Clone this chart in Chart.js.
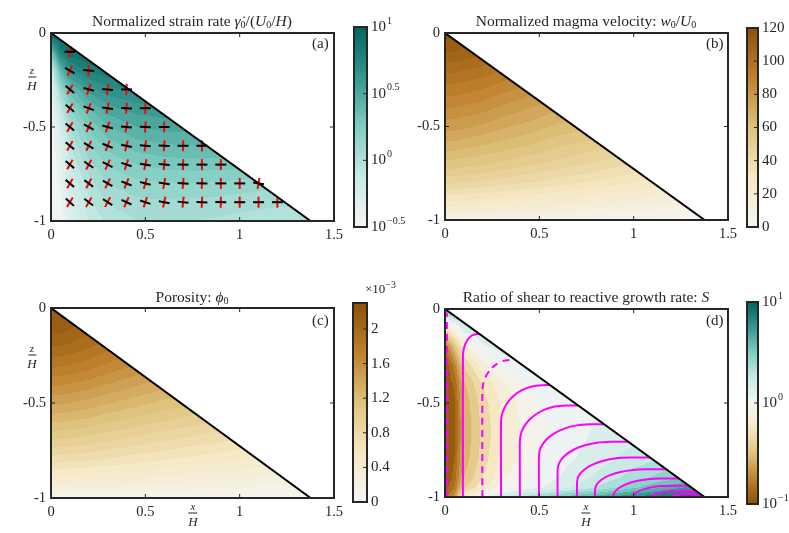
<!DOCTYPE html>
<html>
<head>
<meta charset="utf-8">
<script src="https://cdn.jsdelivr.net/npm/chart.js@4.4.1/dist/chart.umd.min.js"></script>
<style>
  body { margin: 0; background: #fff; width: 789px; height: 533px; position: relative; overflow: hidden; }
  canvas { position: absolute; }
  .t { position: absolute; font-family: 'Liberation Serif', serif; color: #262626; font-size: 15px; white-space: nowrap; line-height: 1; }
  .title { transform: translateX(-50%); font-size: 15.5px; }
  .frac { display: flex; flex-direction: column; align-items: center; transform: translate(-50%, -50%); font-size: 13px; }
  .frac .num { border-bottom: 1px solid #262626; padding: 0 2px 1px; font-size: 11px; font-style: italic; }
  .frac .den { padding-top: 1px; font-style: italic; }
  sub { font-size: 10px; vertical-align: -2px; }
  sup { font-size: 10px; vertical-align: 5px; }
</style>
</head>
<body>
<canvas id="pa"></canvas><canvas id="pb"></canvas><canvas id="pc"></canvas><canvas id="pd"></canvas>
<canvas id="ca"></canvas><canvas id="cb"></canvas><canvas id="cc"></canvas><canvas id="cd"></canvas>

<div class="t title" style="left:192px;top:13px">Normalized strain rate <i>γ̇</i><sub>0</sub>/(<i>U</i><sub>0</sub>/<i>H</i>)</div>
<div class="t title" style="left:586px;top:13px">Normalized magma velocity: <i>w</i><sub>0</sub>/<i>U</i><sub>0</sub></div>
<div class="t title" style="left:192px;top:289px">Porosity: <i>ϕ</i><sub>0</sub></div>
<div class="t title" style="left:586px;top:289px">Ratio of shear to reactive growth rate: <i>S</i></div>

<div class="t" style="left:312px;top:36px">(a)</div>
<div class="t" style="left:706px;top:36px">(b)</div>
<div class="t" style="left:312px;top:313px">(c)</div>
<div class="t" style="left:706px;top:313px">(d)</div>

<div class="t frac" style="left:32px;top:78px"><div class="num">z</div><div class="den">H</div></div>
<div class="t frac" style="left:32px;top:356px"><div class="num">z</div><div class="den">H</div></div>
<div class="t frac" style="left:193px;top:514px"><div class="num">x</div><div class="den">H</div></div>
<div class="t frac" style="left:586px;top:514px"><div class="num">x</div><div class="den">H</div></div>

<div class="t" style="left:365px;top:280px;font-size:13px">×10<sup>−3</sup></div>

<script>
const xNodes = [0, 0.05, 0.1, 0.2, 0.3, 0.45, 0.6, 0.8, 1.0, 1.2, 1.4];
const zNodes = [0, -0.1, -0.2, -0.3, -0.4, -0.5, -0.6, -0.7, -0.8, -0.9, -0.95, -1.0];

// wedge edge
const wedgeX = [0, 1.376];
const wedgeZ = [0, -1];

// (a) log10 of normalized strain rate
const strainLog = [
  [1.0, 1.0, 1.0, 1.0, 1.0, 1.0, 1.0, 1.0, 1.0, 1.0, 1.0],
  [0.35, 0.8, 0.92, 0.95, 0.95, 0.95, 0.95, 0.95, 0.95, 0.95, 0.95],
  [-0.2, 0.4, 0.66, 0.8, 0.84, 0.84, 0.84, 0.84, 0.84, 0.84, 0.84],
  [-0.4, 0.1, 0.38, 0.58, 0.68, 0.72, 0.72, 0.72, 0.72, 0.72, 0.72],
  [-0.45, -0.1, 0.18, 0.4, 0.52, 0.59, 0.61, 0.61, 0.61, 0.61, 0.61],
  [-0.5, -0.25, 0.03, 0.26, 0.39, 0.47, 0.5, 0.51, 0.51, 0.51, 0.51],
  [-0.5, -0.32, -0.06, 0.16, 0.28, 0.36, 0.39, 0.4, 0.4, 0.4, 0.4],
  [-0.5, -0.38, -0.13, 0.07, 0.18, 0.25, 0.28, 0.29, 0.28, 0.27, 0.27],
  [-0.5, -0.42, -0.2, -0.01, 0.1, 0.15, 0.17, 0.17, 0.15, 0.13, 0.13],
  [-0.5, -0.45, -0.27, -0.07, 0.03, 0.08, 0.09, 0.08, 0.06, 0.04, 0.04],
  [-0.5, -0.46, -0.3, -0.1, 0.0, 0.05, 0.06, 0.05, 0.03, 0.01, 0.0],
  [-0.5, -0.47, -0.33, -0.13, -0.03, 0.02, 0.03, 0.02, 0.0, -0.02, -0.03]
];

// (b) normalized magma velocity
const magmaVel = [
  [118, 116, 114, 112, 110, 108, 106, 104, 102, 100, 98],
  [110, 110, 109, 107, 104, 100, 96, 92, 88, 84, 80],
  [101, 101, 100, 98, 95, 91, 87, 83, 79, 75, 71],
  [93, 93, 92, 90, 87, 83, 79, 75, 71, 67, 63],
  [85, 85, 84, 82, 79, 75, 71, 67, 63, 59, 55],
  [77, 77, 76, 74, 71, 68, 64, 60, 56, 52, 48],
  [68, 68, 67, 65, 63, 60, 56, 52, 48, 44, 40],
  [58, 58, 57, 56, 54, 51, 48, 44, 40, 36, 32],
  [46, 46, 45, 44, 42, 40, 37, 34, 30, 26, 22],
  [30, 30, 29, 28, 27, 25, 23, 21, 18, 15, 12],
  [20, 20, 19, 19, 18, 17, 15, 13, 11, 9, 7],
  [8, 8, 8, 8, 7, 7, 6, 5, 4, 3, 3]
];

// (c) porosity, x 10^-3
const porosity = [
  [2.1, 2.1, 2.1, 2.05, 2.0, 1.95, 1.9, 1.85, 1.8, 1.75, 1.7],
  [2.15, 2.15, 2.12, 2.05, 1.98, 1.9, 1.82, 1.74, 1.66, 1.58, 1.5],
  [2.0, 2.0, 1.98, 1.92, 1.85, 1.76, 1.68, 1.6, 1.52, 1.44, 1.36],
  [1.82, 1.82, 1.8, 1.75, 1.68, 1.6, 1.52, 1.44, 1.36, 1.28, 1.2],
  [1.62, 1.62, 1.6, 1.56, 1.5, 1.42, 1.35, 1.27, 1.19, 1.11, 1.03],
  [1.42, 1.42, 1.4, 1.36, 1.31, 1.24, 1.17, 1.1, 1.02, 0.94, 0.86],
  [1.2, 1.2, 1.19, 1.16, 1.11, 1.05, 0.99, 0.92, 0.85, 0.78, 0.71],
  [0.98, 0.98, 0.97, 0.94, 0.9, 0.85, 0.8, 0.74, 0.68, 0.62, 0.56],
  [0.74, 0.74, 0.73, 0.71, 0.68, 0.64, 0.6, 0.55, 0.5, 0.45, 0.4],
  [0.45, 0.45, 0.44, 0.43, 0.41, 0.39, 0.36, 0.33, 0.3, 0.26, 0.22],
  [0.28, 0.28, 0.28, 0.27, 0.26, 0.25, 0.23, 0.21, 0.19, 0.16, 0.14],
  [0.1, 0.1, 0.1, 0.1, 0.09, 0.09, 0.08, 0.07, 0.06, 0.05, 0.05]
];

// (d) log10 of S
const shearLog = [
  [0.6, 0.5, 0.4, 0.35, 0.3, 0.3, 0.3, 0.3, 0.3, 0.3, 0.3],
  [-0.25, -0.05, 0.18, 0.22, 0.22, 0.22, 0.22, 0.22, 0.22, 0.22, 0.22],
  [-0.8, -0.5, -0.15, 0.08, 0.15, 0.15, 0.15, 0.15, 0.15, 0.15, 0.15],
  [-1.0, -0.75, -0.4, -0.15, 0.02, 0.1, 0.12, 0.12, 0.12, 0.12, 0.12],
  [-1.0, -0.88, -0.52, -0.3, -0.13, 0.02, 0.08, 0.1, 0.1, 0.1, 0.1],
  [-1.0, -0.92, -0.57, -0.35, -0.18, -0.03, 0.05, 0.08, 0.1, 0.1, 0.1],
  [-1.0, -0.92, -0.58, -0.37, -0.2, -0.05, 0.04, 0.1, 0.13, 0.14, 0.14],
  [-1.0, -0.92, -0.58, -0.37, -0.2, -0.05, 0.04, 0.12, 0.18, 0.22, 0.22],
  [-1.0, -0.9, -0.56, -0.35, -0.18, -0.03, 0.06, 0.15, 0.25, 0.32, 0.36],
  [-1.0, -0.86, -0.5, -0.3, -0.12, 0.02, 0.1, 0.22, 0.35, 0.48, 0.58],
  [-0.95, -0.8, -0.42, -0.22, -0.05, 0.06, 0.15, 0.3, 0.48, 0.65, 0.8],
  [-0.85, -0.65, -0.2, 0.05, 0.2, 0.35, 0.5, 0.65, 0.8, 0.95, 1.0]
];

// (a) principal direction crosses
const crossX = [
  0.1,
  0.1, 0.2,
  0.1, 0.2, 0.3, 0.4,
  0.1, 0.2, 0.3, 0.4, 0.5,
  0.1, 0.2, 0.3, 0.4, 0.5, 0.6,
  0.1, 0.2, 0.3, 0.4, 0.5, 0.6, 0.7, 0.8,
  0.1, 0.2, 0.3, 0.4, 0.5, 0.6, 0.7, 0.8, 0.9,
  0.1, 0.2, 0.3, 0.4, 0.5, 0.6, 0.7, 0.8, 0.9, 1.0, 1.1,
  0.1, 0.2, 0.3, 0.4, 0.5, 0.6, 0.7, 0.8, 0.9, 1.0, 1.1, 1.2
];
const crossZ = [
  -0.1,
  -0.2, -0.2,
  -0.3, -0.3, -0.3, -0.3,
  -0.4, -0.4, -0.4, -0.4, -0.4,
  -0.5, -0.5, -0.5, -0.5, -0.5, -0.5,
  -0.6, -0.6, -0.6, -0.6, -0.6, -0.6, -0.6, -0.6,
  -0.7, -0.7, -0.7, -0.7, -0.7, -0.7, -0.7, -0.7, -0.7,
  -0.8, -0.8, -0.8, -0.8, -0.8, -0.8, -0.8, -0.8, -0.8, -0.8, -0.8,
  -0.9, -0.9, -0.9, -0.9, -0.9, -0.9, -0.9, -0.9, -0.9, -0.9, -0.9, -0.9
];
const blackAngle = [
  0,
  30, 5,
  40, 15, 5, 0,
  40, 20, 8, 3, 0,
  40, 28, 15, 6, 2, 0,
  40, 32, 22, 12, 5, 2, 0, 0,
  40, 35, 27, 18, 10, 5, 2, 0, 0,
  40, 37, 30, 22, 14, 8, 4, 2, 0, 0, 10,
  42, 38, 33, 25, 18, 11, 6, 3, 1, 0, 0, 0
];
const redAngle = [
  -80,
  -65, -85,
  -60, -72, -82, -88,
  -60, -68, -78, -85, -88,
  -60, -65, -72, -80, -86, -90,
  -60, -63, -68, -76, -82, -86, -88, -90,
  -60, -62, -65, -72, -78, -84, -88, -90, -90,
  -60, -62, -64, -68, -74, -80, -85, -88, -90, -90, -80,
  -58, -60, -62, -66, -72, -78, -84, -87, -89, -90, -90, -90
];

// (d) magenta flow lines
const streamX = [
  [0.01, 0.01],
  [0.095, 0.095, 0.0974, 0.1044, 0.1155, 0.13, 0.1469, 0.165, 0.18],
  [0.198, 0.198, 0.203, 0.218, 0.242, 0.273, 0.309, 0.348, 0.372],
  [0.297, 0.297, 0.3045, 0.3265, 0.3615, 0.407, 0.46, 0.517, 0.557],
  [0.397, 0.397, 0.4055, 0.4305, 0.47, 0.522, 0.582, 0.647, 0.706],
  [0.498, 0.498, 0.507, 0.534, 0.577, 0.633, 0.698, 0.768, 0.843],
  [0.597, 0.597, 0.6065, 0.6345, 0.679, 0.737, 0.8045, 0.877, 0.971],
  [0.7, 0.7, 0.7095, 0.7375, 0.782, 0.84, 0.9075, 0.98, 1.087],
  [0.795, 0.795, 0.804, 0.831, 0.874, 0.93, 0.995, 1.065, 1.172],
  [0.89, 0.8985, 0.9235, 0.963, 1.015, 1.075, 1.14, 1.241],
  [0.997, 1.004, 1.024, 1.056, 1.097, 1.145, 1.197, 1.293],
  [1.095, 1.1, 1.116, 1.142, 1.175, 1.214, 1.255, 1.332],
  [1.2, 1.209, 1.235, 1.274, 1.32, 1.355],
  [1.3, 1.33, 1.368]
];
const streamZ = [
  [-1, -0.02],
  [-1, -0.255, -0.224, -0.195, -0.17, -0.151, -0.139, -0.135, -0.131],
  [-1, -0.44, -0.396, -0.355, -0.32, -0.293, -0.276, -0.27, -0.27],
  [-1, -0.605, -0.553, -0.505, -0.464, -0.432, -0.412, -0.405, -0.405],
  [-1, -0.703, -0.654, -0.608, -0.569, -0.538, -0.519, -0.513, -0.513],
  [-1, -0.783, -0.739, -0.698, -0.663, -0.636, -0.619, -0.613, -0.613],
  [-1, -0.856, -0.817, -0.781, -0.75, -0.726, -0.711, -0.706, -0.706],
  [-1, -0.92, -0.886, -0.855, -0.828, -0.807, -0.794, -0.79, -0.79],
  [-1, -0.962, -0.934, -0.907, -0.884, -0.867, -0.856, -0.852, -0.852],
  [-1, -0.975, -0.951, -0.931, -0.915, -0.905, -0.902, -0.902],
  [-1, -0.984, -0.97, -0.958, -0.948, -0.942, -0.94, -0.94],
  [-1, -0.992, -0.984, -0.977, -0.972, -0.969, -0.968, -0.968],
  [-1, -0.994, -0.989, -0.986, -0.985, -0.985],
  [-1, -0.996, -0.994]
];
const streamDashed = [true, false, true, false, false, false, false, false, false, false, false, false, false, false];

// tick values
const xTicks = [0, 0.5, 1, 1.5];
const zTicks = [0, -0.5, -1];
const strainTicks = [-0.5, 0, 0.5, 1];
const velTicks = [0, 20, 40, 60, 80, 100, 120];
const porTicks = [0, 0.4, 0.8, 1.2, 1.6, 2];
const shearTicks = [-1, 0, 1];

// colours
const BRBG = ['#543005', '#8c510a', '#bf812d', '#dfc27d', '#f6e8c3', '#f5f5f5', '#c7eae5', '#80cdc1', '#35978f', '#01665e', '#003c30']
  .map(h => [1, 3, 5].map(i => parseInt(h.substr(i, 2), 16)));
function brbg(s) {
  s = Math.min(1, Math.max(0, s)) * 10;
  const i = Math.min(9, Math.floor(s)), f = s - i;
  return BRBG[i].map((c, k) => Math.round(c + (BRBG[i + 1][k] - c) * f));
}
const tealMap = t => brbg(0.5 + 0.4 * t);
const brownMap = t => brbg(0.5 - 0.4 * t);
const divMap = t => brbg(0.1 + 0.8 * t);

const INK = '#262626';
Chart.defaults.font.family = "'Liberation Serif', serif";
Chart.defaults.font.size = 14.5;
Chart.defaults.color = INK;
Chart.defaults.animation = false;

function sample(grid, x, z) {
  let i = 0, j = 0;
  while (i < xNodes.length - 2 && x > xNodes[i + 1]) i++;
  while (j < zNodes.length - 2 && z < zNodes[j + 1]) j++;
  const tx = Math.min(1, Math.max(0, (x - xNodes[i]) / (xNodes[i + 1] - xNodes[i])));
  const tz = Math.min(1, Math.max(0, (z - zNodes[j]) / (zNodes[j + 1] - zNodes[j])));
  return grid[j][i] * (1 - tx) * (1 - tz) + grid[j][i + 1] * tx * (1 - tz)
       + grid[j + 1][i] * (1 - tx) * tz + grid[j + 1][i + 1] * tx * tz;
}

function drawField(chart, f) {
  const { left, top, width, height } = chart.chartArea;
  const xs = chart.scales.x, ys = chart.scales.y;
  const w = Math.round(width), h = Math.round(height);
  const off = document.createElement('canvas');
  off.width = w; off.height = h;
  const octx = off.getContext('2d');
  const img = octx.createImageData(w, h);
  const slope = wedgeX[1] / -wedgeZ[1];
  for (let py = 0; py < h; py++) {
    const z = ys.getValueForPixel(top + py + 0.5);
    for (let px = 0; px < w; px++) {
      const x = xs.getValueForPixel(left + px + 0.5);
      if (x > -z * slope + 0.004) continue;
      const v = sample(f.grid, x, z);
      const q = f.lo + (Math.floor((v - f.lo) / f.step) + 0.5) * f.step;
      const c = f.cmap((q - f.lo) / (f.hi - f.lo));
      const k = (py * w + px) * 4;
      img.data[k] = c[0]; img.data[k + 1] = c[1]; img.data[k + 2] = c[2]; img.data[k + 3] = 255;
    }
  }
  octx.putImageData(img, 0, 0);
  chart.ctx.drawImage(off, left, top);
}

const framePlugin = {
  id: 'frame',
  beforeDatasetsDraw(chart, args, o) {
    const ctx = chart.ctx, a = chart.chartArea;
    if (o.field) drawField(chart, o.field);
    if (o.bar) {
      const ys = chart.scales.y;
      for (let y = Math.floor(a.top); y <= a.bottom; y++) {
        const c = o.bar.cmap((ys.getValueForPixel(y + 0.5) - o.bar.lo) / (o.bar.hi - o.bar.lo));
        ctx.fillStyle = `rgb(${c[0]},${c[1]},${c[2]})`;
        ctx.fillRect(a.left, y, a.right - a.left, 1);
      }
    }
  },
  afterDraw(chart, args, o) {
    const ctx = chart.ctx, a = chart.chartArea;
    ctx.save();
    ctx.strokeStyle = INK;
    ctx.lineWidth = 1;
    ctx.beginPath();
    (o.xt || []).forEach(v => {
      const p = chart.scales.x.getPixelForValue(v);
      if (p <= a.left + 1 || p >= a.right - 1) return;
      ctx.moveTo(p, a.bottom); ctx.lineTo(p, a.bottom - 4);
      ctx.moveTo(p, a.top); ctx.lineTo(p, a.top + 4);
    });
    (o.yt || []).forEach(v => {
      const p = chart.scales.y.getPixelForValue(v);
      if (p <= a.top + 1 || p >= a.bottom - 1) return;
      if (!o.bar) { ctx.moveTo(a.left, p); ctx.lineTo(a.left + 4, p); }
      ctx.moveTo(a.right, p); ctx.lineTo(a.right - 4, p);
    });
    ctx.stroke();
    ctx.lineWidth = 2;
    ctx.strokeRect(a.left, a.top, a.right - a.left, a.bottom - a.top);
    if (o.exp) {
      ctx.fillStyle = INK;
      ctx.textBaseline = 'middle';
      o.yt.forEach(v => {
        const p = chart.scales.y.getPixelForValue(v);
        ctx.font = "15px 'Liberation Serif'";
        ctx.fillText('10', a.right + 4, p);
        const w10 = ctx.measureText('10').width;
        ctx.font = "10px 'Liberation Serif'";
        ctx.fillText(String(v).replace('-', '−'), a.right + 4 + w10 + 1, p - 6);
      });
    }
    ctx.restore();
  }
};

function place(id, box) {
  const c = document.getElementById(id);
  c.width = box.w; c.height = box.h;
  c.style.left = box.l + 'px'; c.style.top = box.t + 'px';
  return c;
}
function fixTicks(arr) {
  return s => { s.ticks = arr.map(v => ({ value: v })); };
}

function plotPanel(id, box, area, field, datasets) {
  const c = place(id, box);
  return new Chart(c, {
    type: 'scatter',
    data: { datasets: datasets },
    options: {
      responsive: false,
      layout: { padding: { left: 0, top: area.t - box.t, right: box.l + box.w - area.r, bottom: 0 } },
      scales: {
        x: {
          type: 'linear', min: 0, max: 1.5,
          afterBuildTicks: fixTicks(xTicks),
          afterFit: s => { s.height = box.t + box.h - area.b; },
          grid: { display: false, drawTicks: false }, border: { display: false },
          ticks: { padding: 5, callback: v => String(v) }
        },
        y: {
          type: 'linear', min: -1, max: 0,
          afterBuildTicks: fixTicks(zTicks),
          afterFit: s => { s.width = area.l - box.l; },
          grid: { display: false, drawTicks: false }, border: { display: false },
          ticks: { padding: 5, callback: v => String(v) }
        }
      },
      plugins: {
        legend: { display: false }, tooltip: { enabled: false },
        frame: { field: field, xt: xTicks, yt: zTicks }
      }
    },
    plugins: [framePlugin]
  });
}

function colorBar(id, box, area, lo, hi, ticks, cmap, isExp) {
  const c = place(id, box);
  return new Chart(c, {
    type: 'scatter',
    data: { datasets: [] },
    options: {
      responsive: false,
      layout: { padding: { left: area.l - box.l, top: area.t - box.t, right: 0, bottom: box.t + box.h - area.b } },
      scales: {
        x: { type: 'linear', display: false, min: 0, max: 1 },
        y: {
          type: 'linear', position: 'right', min: lo, max: hi,
          afterBuildTicks: fixTicks(ticks),
          afterFit: s => { s.width = box.l + box.w - area.r; },
          grid: { display: false, drawTicks: false }, border: { display: false },
          ticks: { display: !isExp, padding: 4, font: { size: 15 }, callback: v => String(v) }
        }
      },
      plugins: {
        legend: { display: false }, tooltip: { enabled: false },
        frame: { bar: { lo: lo, hi: hi, cmap: cmap }, yt: ticks, exp: isExp }
      }
    },
    plugins: [framePlugin]
  });
}

const edge = () => ({
  data: wedgeX.map((x, i) => ({ x: x, y: wedgeZ[i] })),
  showLine: true, borderColor: '#000', borderWidth: 2, pointRadius: 0, order: 0
});

// (a)
plotPanel('pa', { l: 0, t: 0, w: 362, h: 245 }, { l: 51, t: 33, r: 334, b: 221 },
  { grid: strainLog, lo: -0.5, hi: 1, step: 0.075, cmap: tealMap },
  [
    edge(),
    {
      data: crossX.map((x, i) => ({ x: x, y: crossZ[i] })),
      pointStyle: 'line', rotation: blackAngle, pointRadius: 5.5,
      borderColor: '#000', borderWidth: 2, order: 1
    },
    {
      data: crossX.map((x, i) => ({ x: x, y: crossZ[i] })),
      pointStyle: 'line', rotation: redAngle, pointRadius: 5.5,
      borderColor: '#ff0000', borderWidth: 2, order: 2
    }
  ]);

// (b)
plotPanel('pb', { l: 400, t: 0, w: 350, h: 245 }, { l: 445, t: 33, r: 728, b: 220 },
  { grid: magmaVel, lo: 0, hi: 120, step: 5, cmap: brownMap }, [edge()]);

// (c)
plotPanel('pc', { l: 0, t: 270, w: 362, h: 263 }, { l: 51, t: 308, r: 334, b: 498 },
  { grid: porosity, lo: 0, hi: 2.3, step: 0.1, cmap: brownMap }, [edge()]);

// (d)
plotPanel('pd', { l: 400, t: 270, w: 350, h: 263 }, { l: 445, t: 309, r: 728, b: 497 },
  { grid: shearLog, lo: -1, hi: 1, step: 0.1, cmap: divMap },
  [edge()].concat(streamX.map((xs, k) => ({
    data: xs.map((x, i) => ({ x: x, y: streamZ[k][i] })),
    showLine: true, tension: 0.2, borderColor: '#ff00ff', borderWidth: 2,
    borderDash: streamDashed[k] ? [7, 5] : [], pointRadius: 0, order: 1
  }))));

colorBar('ca', { l: 345, t: 15, w: 70, h: 225 }, { l: 354, t: 27, r: 367, b: 227 }, -0.5, 1, strainTicks, tealMap, true);
colorBar('cb', { l: 740, t: 15, w: 49, h: 225 }, { l: 747, t: 27, r: 758, b: 228 }, 0, 120, velTicks, brownMap, false);
colorBar('cc', { l: 345, t: 290, w: 55, h: 225 }, { l: 353, t: 302, r: 367, b: 504 }, 0, 2.3, porTicks, brownMap, false);
colorBar('cd', { l: 740, t: 290, w: 49, h: 225 }, { l: 747, t: 302, r: 758, b: 504 }, -1, 1, shearTicks, divMap, true);
</script>
</body>
</html>
